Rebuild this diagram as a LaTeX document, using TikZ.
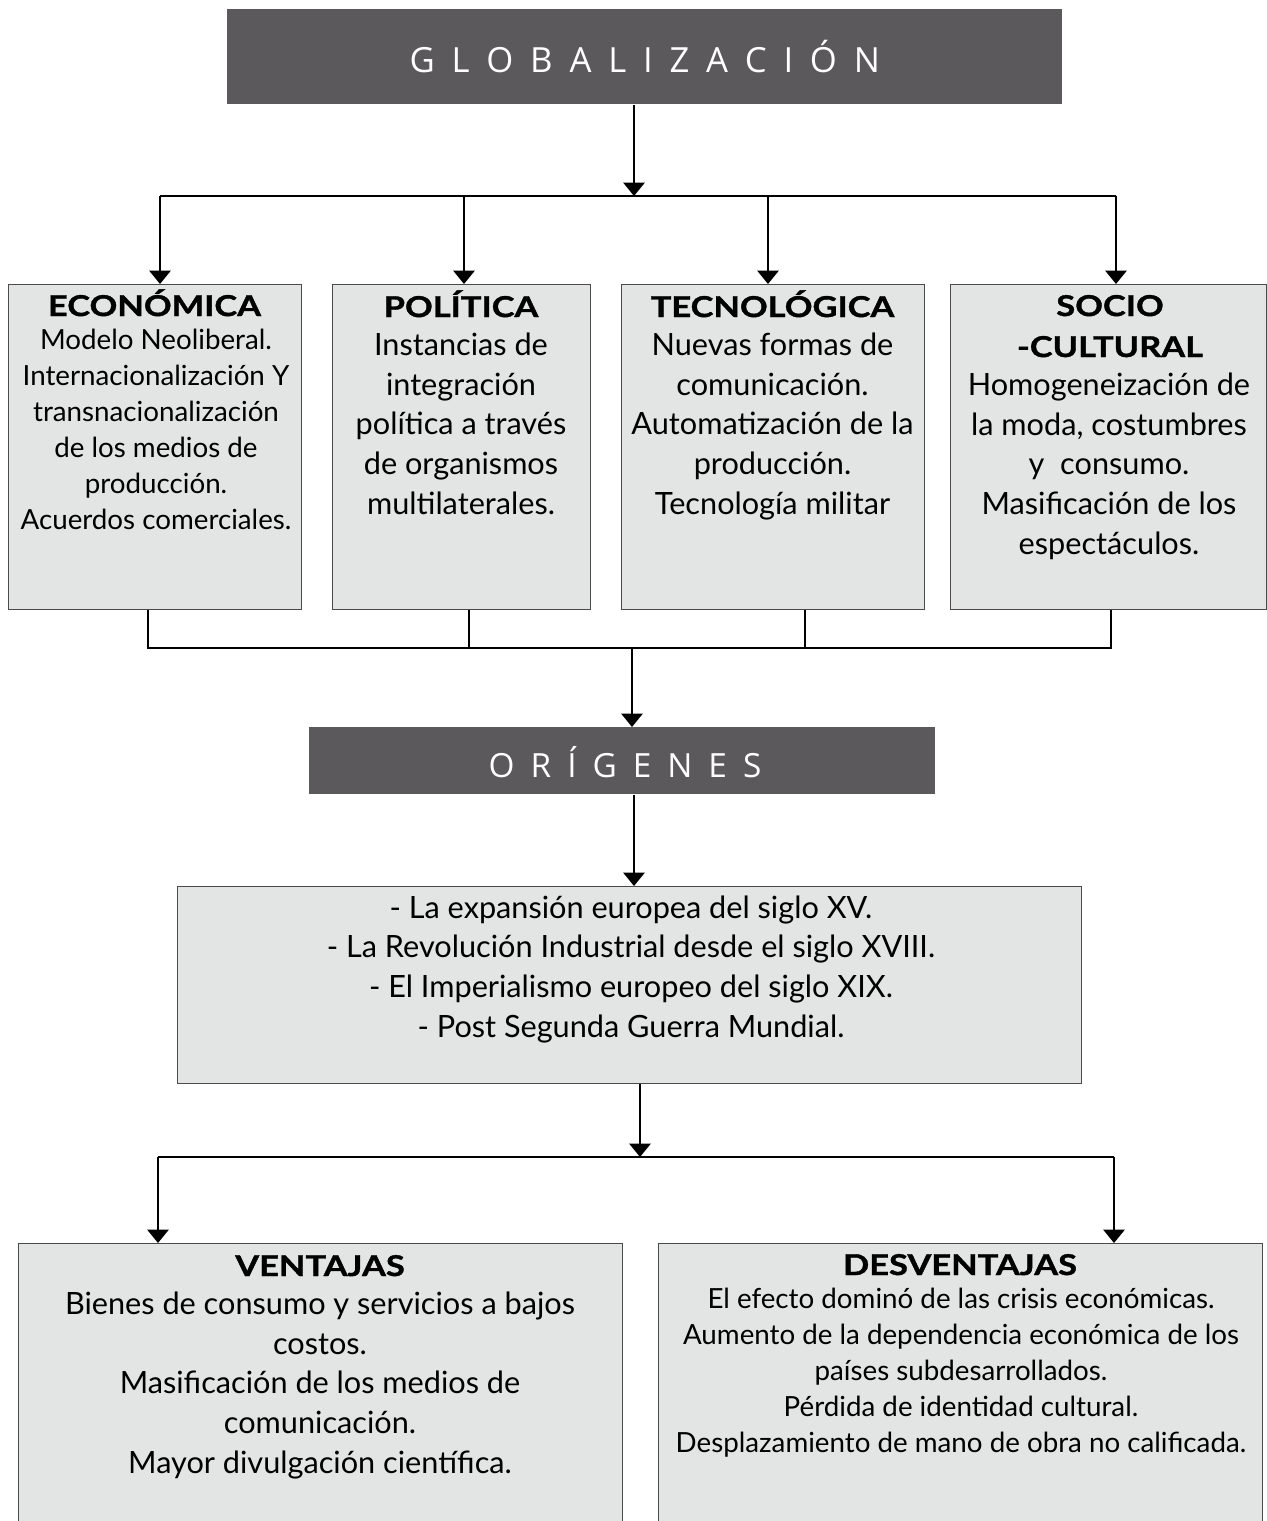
\documentclass[tikz,border=0pt]{standalone}
\usepackage{fontspec}
\setmainfont{Lato}
\newfontfamily\hdrfont{Open Sans}
\newfontfamily\ttlfont[FakeStretch=1.2,FakeBold=1.2]{Lato}
\usetikzlibrary{arrows.meta}
\definecolor{hdr}{HTML}{5C595C}
\definecolor{boxfill}{HTML}{E3E4E4}
\definecolor{boxline}{HTML}{4A4A4A}
\newcommand{\ls}{\hspace{12.6pt}}
\newcommand{\lso}{\hspace{12pt}}
\newcommand{\pxl}[1]{#1*0.75pt}
\begin{document}
\begin{tikzpicture}[x=0.75pt,y=-0.75pt,
  header/.style={draw=none, fill=hdr, inner sep=0pt, text=white,
    font=\hdrfont\fontsize{26}{30}\selectfont},
  catbox/.style={draw=boxline, line width=1.1pt, fill=boxfill, inner sep=0pt, anchor=north west},
  ttl/.style={font=\ttlfont\bfseries\fontsize{21.5}{30.75}\selectfont, anchor=base, inner sep=0pt, align=center},
  bodyA/.style={font=\fontsize{20.8}{26.9}\selectfont, anchor=base, inner sep=0pt, align=center},
  bodyB/.style={font=\fontsize{23}{29.7}\selectfont, anchor=base, inner sep=0pt, align=center},
  conn/.style={line width=1.1pt, black},
  arr/.style={conn, -{Triangle[width=16pt,length=10pt]}},
]
\useasboundingbox (0,0) rectangle (1267,1521);
\clip (0,0) rectangle (1267,1521);

% headers
\node[header, minimum width=\pxl{835}, minimum height=\pxl{95}, anchor=north west] (glob) at (227,9)
  {G\ls L\ls O\ls B\ls A\ls L\ls I\ls Z\ls A\ls C\ls I\ls Ó\ls N};
\node[header, minimum width=\pxl{626}, minimum height=\pxl{67}, anchor=north west] (ori) at (309,727) {};
\node[text=white, font=\hdrfont\fontsize{25}{30}\selectfont, inner sep=0pt] (orit) at (625,762)
  {O\lso R\lso Í\lso G\lso E\lso N\lso E\lso S};

% category boxes
\node[catbox, minimum width=\pxl{293}, minimum height=\pxl{325}] (eco) at (8,284) {};
\node[catbox, minimum width=\pxl{258}, minimum height=\pxl{325}] (pol) at (332,284) {};
\node[catbox, minimum width=\pxl{303}, minimum height=\pxl{325}] (tec) at (621,284) {};
\node[catbox, minimum width=\pxl{316}, minimum height=\pxl{325}] (soc) at (950,284) {};

\node[ttl] (ecot) at (154.5,316) {ECONÓMICA};
\node[bodyA] (ecob) at (156,529) {Modelo Neoliberal.\\Internacionalización Y\\transnacionalización\\de los medios de\\producción.\\Acuerdos comerciales.};
\node[ttl] (polt) at (461,317) {POLÍTICA};
\node[bodyB] (polb) at (461,514) {Instancias de\\integración\\política a través\\de organismos\\multilaterales.};
\node[ttl] (tect) at (772.5,317) {TECNOLÓGICA};
\node[bodyB] (tecb) at (772.5,514) {Nuevas formas de\\comunicación.\\Automatización de la\\producción.\\Tecnología militar};
\node[ttl] (soct) at (1110,357) {SOCIO\\-CULTURAL};
\node[bodyB] (socb) at (1109,554) {Homogeneización de\\la moda, costumbres\\y\ \ consumo.\\Masificación de los\\espectáculos.};

% origins box
\node[catbox, minimum width=\pxl{904}, minimum height=\pxl{197}] (orb) at (177,886) {};
\node[bodyB] (orbt) at (631,1037) {- La expansión europea del siglo XV.\\- La Revolución Industrial desde el siglo XVIII.\\- El Imperialismo europeo del siglo XIX.\\- Post Segunda Guerra Mundial.};

% bottom boxes
\node[catbox, minimum width=\pxl{604}, minimum height=\pxl{300}] (ven) at (18,1243) {};
\node[catbox, minimum width=\pxl{604}, minimum height=\pxl{300}] (des) at (658,1243) {};
\node[ttl] (vent) at (320,1276) {VENTAJAS};
\node[bodyB] (venb) at (320,1473) {Bienes de consumo y servicios a bajos\\costos.\\Masificación de los medios de\\comunicación.\\Mayor divulgación científica.};
\node[ttl] (dest) at (960,1275) {DESVENTAJAS};
\node[bodyA] (desb) at (961,1452) {El efecto dominó de las crisis económicas.\\Aumento de la dependencia económica de los\\países subdesarrollados.\\Pérdida de identidad cultural.\\Desplazamiento de mano de obra no calificada.};

% top connectors
\coordinate (t0) at (634,196);
\coordinate (t1) at (160,196);
\coordinate (t2) at (464,196);
\coordinate (t3) at (768,196);
\coordinate (t4) at (1116,196);
\draw[arr] (glob.south -| t0) -- (t0);
\draw[conn] (t1) -- (t4);
\draw[arr] (t1) -- (t1 |- eco.north);
\draw[arr] (t2) -- (t2 |- pol.north);
\draw[arr] (t3) -- (t3 |- tec.north);
\draw[arr] (t4) -- (t4 |- soc.north);

% middle connectors
\coordinate (u0) at (632,648);
\coordinate (u1) at (148,648);
\coordinate (u2) at (469,648);
\coordinate (u3) at (805,648);
\coordinate (u4) at (1111,648);
\draw[conn] (eco.south -| u1) -- (u1) -- (u4) -- (soc.south -| u4);
\draw[conn] (pol.south -| u2) -- (u2);
\draw[conn] (tec.south -| u3) -- (u3);
\draw[arr] (u0) -- (u0 |- ori.north);

\coordinate (v0) at (634,794);
\draw[arr] (ori.south -| v0) -- (v0 |- orb.north);

% bottom connectors
\coordinate (w0) at (640,1157);
\coordinate (w1) at (158,1157);
\coordinate (w2) at (1114,1157);
\draw[arr] (orb.south -| w0) -- (w0);
\draw[conn] (w1) -- (w2);
\draw[arr] (w1) -- (w1 |- ven.north);
\draw[arr] (w2) -- (w2 |- des.north);
\end{tikzpicture}
\end{document}
